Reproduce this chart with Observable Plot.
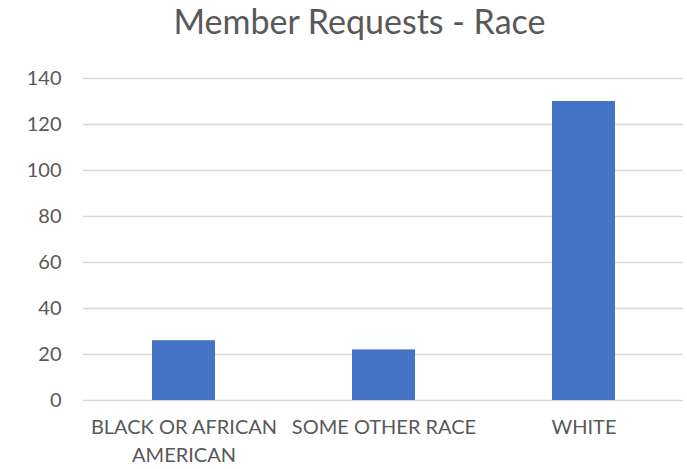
<!DOCTYPE html>
<html>
<head>
<meta charset="utf-8">
<script src="https://cdn.jsdelivr.net/npm/d3@7"></script>
<script src="https://cdn.jsdelivr.net/npm/@observablehq/plot@0.6"></script>
<style>
  html, body { margin: 0; padding: 0; background: #fff; }
  #title { height: 55px; line-height: 42px; text-align: center; font-family: Lato, "Open Sans", sans-serif; font-size: 34px; color: #595959; width: 655px; padding-left: 32px; }
</style>
</head>
<body>
<div id="title">Member Requests - Race</div>
<div id="chart"></div>
<script>
const categories = ["BLACK OR AFRICAN AMERICAN", "SOME OTHER RACE", "WHITE"];
const tickLabels = ["BLACK OR AFRICAN\nAMERICAN", "SOME OTHER RACE", "WHITE"];
const values = [26, 22, 130];
const yTicks = [0, 20, 40, 60, 80, 100, 120, 140];

const data = categories.map((c, i) => ({category: c, value: values[i]}));

const chart = Plot.plot({
  width: 687,
  height: 414,
  marginTop: 23,
  marginBottom: 69,
  marginLeft: 83,
  marginRight: 4,
  style: {fontFamily: "Lato, 'Open Sans', sans-serif", fontSize: "20px", color: "#595959", background: "#fff"},
  x: {domain: categories, paddingInner: 0.685, paddingOuter: 0.3425, label: null},
  y: {domain: [0, 140], label: null},
  marks: [
    Plot.gridY(yTicks, {stroke: "#d9d9d9", strokeOpacity: 1, strokeWidth: 1.5}),
    Plot.barY(data, {x: "category", y: "value", fill: "#4472C4"}),
    Plot.axisY(yTicks, {tickSize: 0, tickPadding: 22, fill: "#595959", fontSize: 20}),
    Plot.axisX({tickSize: 0, tickPadding: 14, fill: "#595959", fontSize: 20, lineHeight: 1.4,
      tickFormat: d => tickLabels[categories.indexOf(d)]})
  ]
});
document.getElementById("chart").appendChild(chart);
</script>
</body>
</html>
